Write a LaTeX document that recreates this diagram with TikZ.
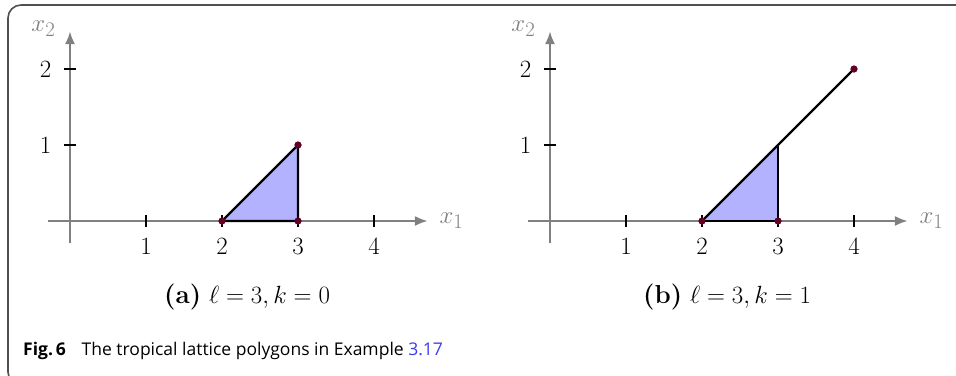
\documentclass[tikz,border=0pt]{standalone}
\usepackage{fontspec}
\newfontfamily\capfont{Open Sans}
\usetikzlibrary{arrows.meta}
\definecolor{axisgray}{RGB}{128,128,128}
\definecolor{dotred}{RGB}{100,0,40}
\definecolor{framegray}{RGB}{80,80,80}
\definecolor{fillblue}{RGB}{178,178,255}
\definecolor{linkblue}{RGB}{60,60,240}
\tikzset{
  axisline/.style={draw=axisgray,line width=2.6pt,-{Latex[length=13pt,width=10pt]}},
  axislabel/.style={text=axisgray,font=\fontsize{30}{34}\selectfont,inner sep=0pt},
  ticklabel/.style={font=\fontsize{29.5}{34}\selectfont,inner sep=0pt},
  tickmark/.style={line width=2pt,black},
  dotnode/.style={circle,fill=dotred,inner sep=0pt,minimum size=7pt},
  edge/.style={line width=2.2pt,black},
  region/.style={fill=fillblue},
  subcap/.style={font=\fontsize{26}{30}\selectfont,inner sep=0pt},
}
\begin{document}
\begin{tikzpicture}[x=1pt,y=1pt]
\useasboundingbox (0,0) rectangle (956,-375);
\begin{scope}
\clip (0,0) rectangle (956,-375);
\draw[framegray,line width=1.6pt,rounded corners=13pt] (960,-5) -- (8,-5) -- (8,-385) -- (40,-385);
\end{scope}
% panel (a)
\begin{scope}[shift={(70,-221)},x=76pt,y=76pt]
\coordinate (ax0) at (-0.29,0);
\coordinate (ax1) at (4.71,0);
\coordinate (ay0) at (0,-0.29);
\coordinate (ay1) at (0,2.5);
\fill[region] (2,0) -- (3,0) -- (3,1) -- cycle;
\draw[axisline] (ax0) -- (ax1);
\draw[axisline] (ay0) -- (ay1);
\node[axislabel] (xa) at (5.02,0) {$x_1$};
\node[axislabel] (ya) at (-0.35,2.53) {$x_2$};
\foreach \i in {1,2,3,4} {
  \draw[tickmark] (\i,-0.075) -- (\i,0.075);
  \node[ticklabel] (ta\i) at (\i,-0.34) {$\i$};
}
\foreach \i in {1,2} {
  \draw[tickmark] (-0.075,\i) -- (0.075,\i);
  \node[ticklabel] (sa\i) at (-0.32,\i) {$\i$};
}
\node[dotnode] (a1) at (2,0) {};
\node[dotnode] (a2) at (3,0) {};
\node[dotnode] (a3) at (3,1) {};
\draw[edge] (a1.center) -- (a2.center) -- (a3.center) -- cycle;
\node[dotnode] at (a1) {};
\node[dotnode] at (a2) {};
\node[dotnode] at (a3) {};
\node[subcap] (capa) at (2.33,-1.0) {\textbf{(a)} $\ell=3,k=0$};
\end{scope}
% panel (b)
\begin{scope}[shift={(550,-221)},x=76pt,y=76pt]
\coordinate (bx0) at (-0.29,0);
\coordinate (bx1) at (4.71,0);
\coordinate (by0) at (0,-0.29);
\coordinate (by1) at (0,2.5);
\fill[region] (2,0) -- (3,0) -- (3,1) -- cycle;
\draw[axisline] (bx0) -- (bx1);
\draw[axisline] (by0) -- (by1);
\node[axislabel] (xb) at (5.02,0) {$x_1$};
\node[axislabel] (yb) at (-0.35,2.53) {$x_2$};
\foreach \i in {1,2,3,4} {
  \draw[tickmark] (\i,-0.075) -- (\i,0.075);
  \node[ticklabel] (tb\i) at (\i,-0.34) {$\i$};
}
\foreach \i in {1,2} {
  \draw[tickmark] (-0.075,\i) -- (0.075,\i);
  \node[ticklabel] (sb\i) at (-0.32,\i) {$\i$};
}
\node[dotnode] (b1) at (2,0) {};
\node[dotnode] (b2) at (3,0) {};
\node[dotnode] (b4) at (4,2) {};
\coordinate (b3) at (3,1);
\draw[edge] (b1.center) -- (b2.center) -- (b3);
\draw[edge] (b1.center) -- (b4.center);
\node[dotnode] at (b1) {};
\node[dotnode] at (b2) {};
\node[dotnode] at (b4) {};
\node[subcap] (capb) at (2.33,-1.0) {\textbf{(b)} $\ell=3,k=1$};
\end{scope}
\node[anchor=west,inner sep=0pt,font=\capfont\fontsize{17.5}{20}\selectfont] (fig) at (23,-351) {\textbf{Fig.\,6}\hspace{0.9em}The tropical lattice polygons in Example \textcolor{linkblue}{3.17}};
\end{tikzpicture}
\end{document}
